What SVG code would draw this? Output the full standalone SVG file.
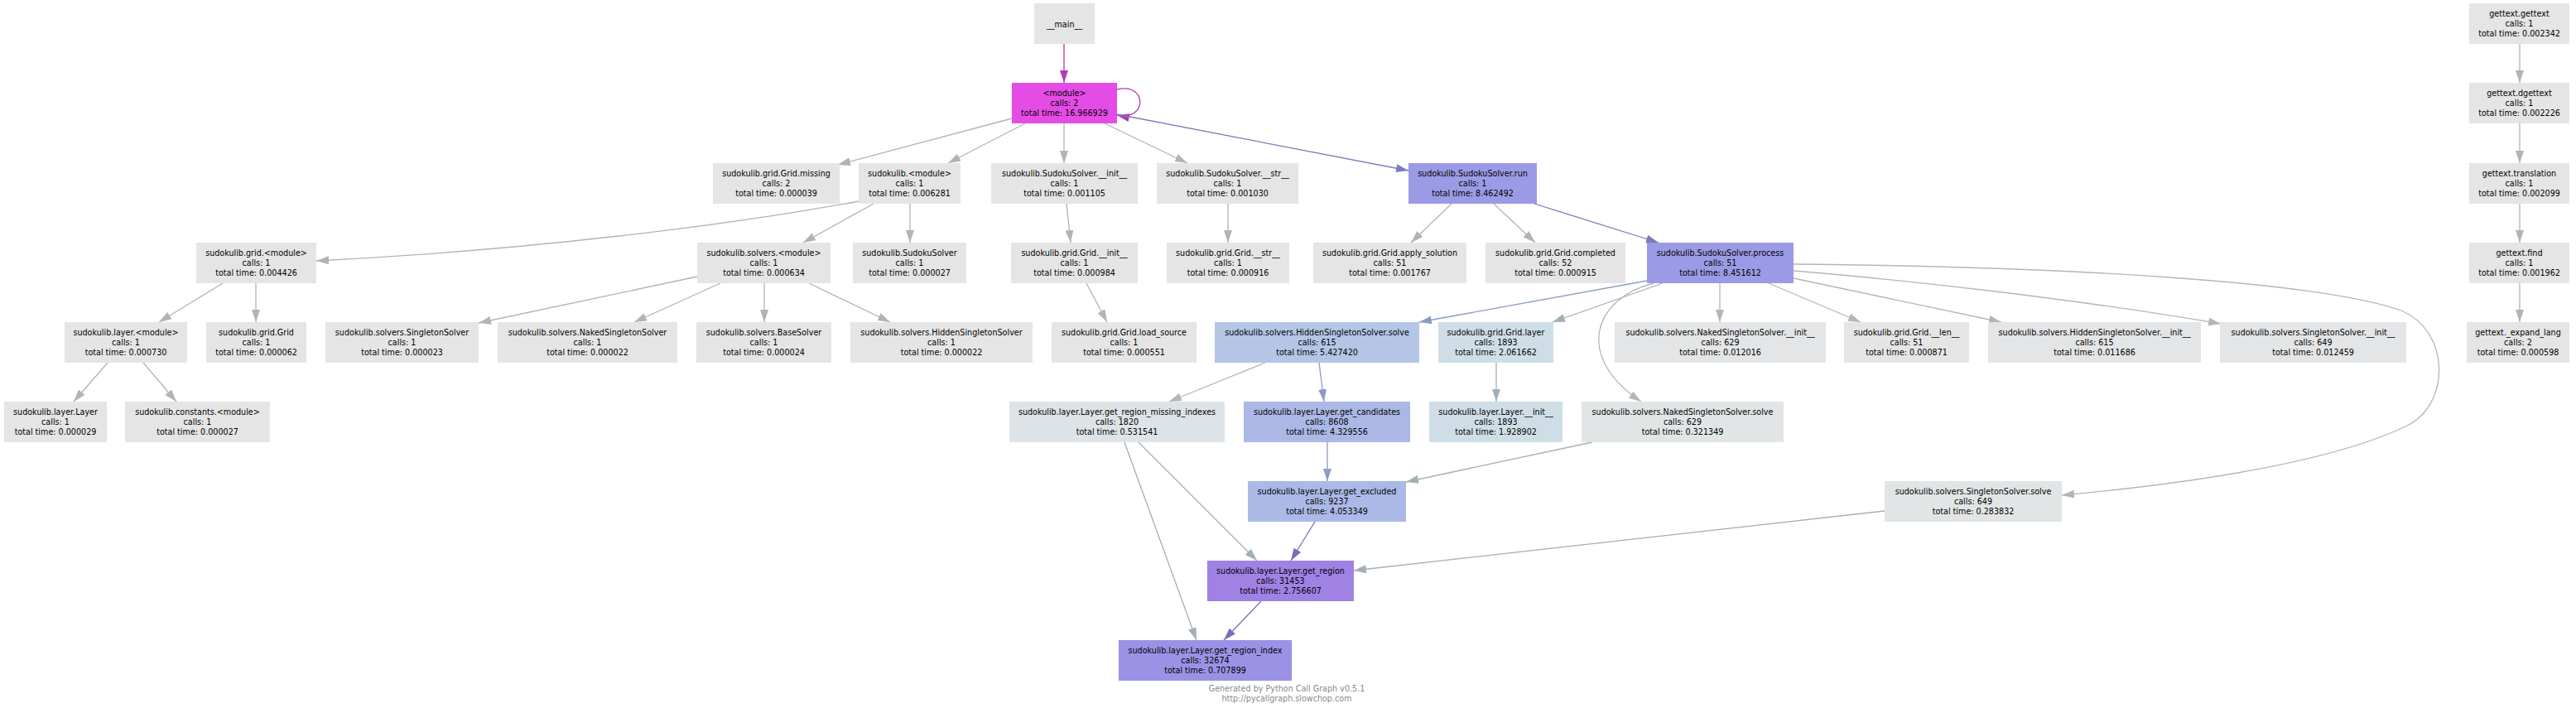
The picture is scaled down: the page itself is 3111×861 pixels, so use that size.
<svg xmlns="http://www.w3.org/2000/svg" width="3111" height="861" viewBox="0 0 3111 861">
<style>
rect{stroke:none}
.d{fill:#e5e5e5}
.g2{fill:#e3e5e6}
text{font-family:"DejaVu Sans","Liberation Sans",sans-serif;font-size:9.6px;fill:#000;text-anchor:middle}
.foot{fill:#888888}
.e{fill:none;stroke-width:1.3}
.gr{stroke:#b3b3b3;marker-end:url(#ag)}
.gb{stroke:#b3b6b9;marker-end:url(#agb)}
.bl{stroke:#8c9cc2;marker-end:url(#abl)}
.lv{stroke:#7b7bbd;marker-end:url(#alv)}
.pu{stroke:#7a6cbd;marker-end:url(#apu)}
.sl{stroke:#a3afb7;marker-end:url(#asl)}
.mg{stroke:#b23cb2;marker-end:url(#amg)}
</style>
<defs>
<marker id="ag" markerUnits="userSpaceOnUse" markerWidth="15" markerHeight="10" refX="15" refY="5" orient="auto"><path d="M0,0L15,5L0,10z" fill="#b3b3b3"/></marker>
<marker id="agb" markerUnits="userSpaceOnUse" markerWidth="15" markerHeight="10" refX="15" refY="5" orient="auto"><path d="M0,0L15,5L0,10z" fill="#b3b6b9"/></marker>
<marker id="abl" markerUnits="userSpaceOnUse" markerWidth="15" markerHeight="10" refX="15" refY="5" orient="auto"><path d="M0,0L15,5L0,10z" fill="#8c9cc2"/></marker>
<marker id="alv" markerUnits="userSpaceOnUse" markerWidth="15" markerHeight="10" refX="15" refY="5" orient="auto"><path d="M0,0L15,5L0,10z" fill="#7b7bbd"/></marker>
<marker id="apu" markerUnits="userSpaceOnUse" markerWidth="15" markerHeight="10" refX="15" refY="5" orient="auto"><path d="M0,0L15,5L0,10z" fill="#7a6cbd"/></marker>
<marker id="asl" markerUnits="userSpaceOnUse" markerWidth="15" markerHeight="10" refX="15" refY="5" orient="auto"><path d="M0,0L15,5L0,10z" fill="#a3afb7"/></marker>
<marker id="amg" markerUnits="userSpaceOnUse" markerWidth="15" markerHeight="10" refX="15" refY="5" orient="auto"><path d="M0,0L15,5L0,10z" fill="#b23cb2"/></marker>
</defs>
<rect x="0" y="0" width="3111" height="861" fill="#ffffff"/>

<g id="connectors">
<path class="e mg" d="M1285,53L1285,100"/>
<path class="e mg" d="M1349,108C1386,99 1386,147 1349,139"/>
<path class="e gr" d="M1222,143L1012,199"/>
<path class="e gr" d="M1238,149L1145,197"/>
<path class="e gr" d="M1285,149L1285,197"/>
<path class="e gr" d="M1334,149L1434,197"/>
<path class="e lv" d="M1349,138L1701,206"/>
<path class="e gr" d="M1037,243C880,272 640,302 382,315"/>
<path class="e gr" d="M1055,246L970,293"/>
<path class="e gr" d="M1099,246L1099,293"/>
<path class="e gr" d="M1288,246L1293,293"/>
<path class="e gr" d="M1483,246L1483,293"/>
<path class="e gr" d="M1753,246L1704,293"/>
<path class="e gr" d="M1804,246L1854,293"/>
<path class="e lv" d="M1853,246L2003,293"/>
<path class="e gr" d="M269,342L192,389"/>
<path class="e gr" d="M309,342L309,389"/>
<path class="e gr" d="M842,334L578,390"/>
<path class="e gr" d="M870,342L766,389"/>
<path class="e gr" d="M923,342L923,389"/>
<path class="e gr" d="M977,342L1075,389"/>
<path class="e gr" d="M1312,342L1337,389"/>
<path class="e gr" d="M130,438L89,485"/>
<path class="e gr" d="M173,438L213,485"/>
<path class="e gr" d="M3043,53L3043,100"/>
<path class="e gr" d="M3043,149L3043,197"/>
<path class="e gr" d="M3043,246L3043,293"/>
<path class="e gr" d="M3043,342L3043,389"/>
<path class="e bl" d="M1989,339L1714,389"/>
<path class="e sl" d="M2008,342L1875,389"/>
<path class="e gb" d="M2077,342L2077,389"/>
<path class="e gb" d="M2136,342L2247,389"/>
<path class="e gb" d="M2166,336L2417,389"/>
<path class="e gb" d="M2166,327C2300,338 2500,360 2682,391"/>
<path class="e gb" d="M2166,319C2500,322 2800,340 2900,375C2960,400 2960,490 2905,515C2800,565 2600,588 2490,598"/>
<path class="e gb" d="M1997,342C1925,360 1900,430 1982,485"/>
<path class="e gb" d="M1528,438L1412,485"/>
<path class="e bl" d="M1593,438L1599,485"/>
<path class="e bl" d="M1603,534L1603,581"/>
<path class="e sl" d="M1807,438L1807,485"/>
<path class="e sl" d="M1923,534L1698,582"/>
<path class="e sl" d="M1375,534L1518,677"/>
<path class="e sl" d="M1358,534L1445,773"/>
<path class="e sl" d="M2276,617L1635,689"/>
<path class="e pu" d="M1588,630L1559,677"/>
<path class="e pu" d="M1523,726L1478,773"/>
</g>

<g id="main"><rect class="d" x="1249" y="4" width="73" height="49"/><text x="1285.5" y="32.5">__main__</text></g>
<g id="module"><rect x="1222" y="100" width="127" height="49" fill="#e54ce5"/><text x="1285.5" y="116"><tspan x="1285.5">&lt;module&gt;</tspan><tspan x="1285.5" dy="12">calls: 2</tspan><tspan x="1285.5" dy="12">total time: 16.966929</tspan></text></g>

<g id="grid_missing"><rect class="d" x="861" y="197" width="153" height="49"/><text x="937.5" y="213"><tspan x="937.5">sudokulib.grid.Grid.missing</tspan><tspan x="937.5" dy="12">calls: 2</tspan><tspan x="937.5" dy="12">total time: 0.000039</tspan></text></g>
<g id="sudokulib_module"><rect class="d" x="1037" y="197" width="123" height="49"/><text x="1098.5" y="213"><tspan x="1098.5">sudokulib.&lt;module&gt;</tspan><tspan x="1098.5" dy="12">calls: 1</tspan><tspan x="1098.5" dy="12">total time: 0.006281</tspan></text></g>
<g id="ss_init"><rect class="d" x="1197" y="197" width="177" height="49"/><text x="1285.5" y="213"><tspan x="1285.5">sudokulib.SudokuSolver.__init__</tspan><tspan x="1285.5" dy="12">calls: 1</tspan><tspan x="1285.5" dy="12">total time: 0.001105</tspan></text></g>
<g id="ss_str"><rect class="d" x="1397" y="197" width="171" height="49"/><text x="1482.5" y="213"><tspan x="1482.5">sudokulib.SudokuSolver.__str__</tspan><tspan x="1482.5" dy="12">calls: 1</tspan><tspan x="1482.5" dy="12">total time: 0.001030</tspan></text></g>
<g id="ss_run"><rect x="1701" y="197" width="155" height="49" fill="#9b9be5"/><text x="1778.5" y="213"><tspan x="1778.5">sudokulib.SudokuSolver.run</tspan><tspan x="1778.5" dy="12">calls: 1</tspan><tspan x="1778.5" dy="12">total time: 8.462492</tspan></text></g>

<g id="gettext_gettext"><rect class="d" x="2982" y="4" width="121" height="49"/><text x="3042.5" y="20"><tspan x="3042.5">gettext.gettext</tspan><tspan x="3042.5" dy="12">calls: 1</tspan><tspan x="3042.5" dy="12">total time: 0.002342</tspan></text></g>
<g id="gettext_dgettext"><rect class="d" x="2982" y="100" width="121" height="49"/><text x="3042.5" y="116"><tspan x="3042.5">gettext.dgettext</tspan><tspan x="3042.5" dy="12">calls: 1</tspan><tspan x="3042.5" dy="12">total time: 0.002226</tspan></text></g>
<g id="gettext_translation"><rect class="d" x="2982" y="197" width="121" height="49"/><text x="3042.5" y="213"><tspan x="3042.5">gettext.translation</tspan><tspan x="3042.5" dy="12">calls: 1</tspan><tspan x="3042.5" dy="12">total time: 0.002099</tspan></text></g>
<g id="gettext_find"><rect class="d" x="2982" y="293" width="121" height="49"/><text x="3042.5" y="309"><tspan x="3042.5">gettext.find</tspan><tspan x="3042.5" dy="12">calls: 1</tspan><tspan x="3042.5" dy="12">total time: 0.001962</tspan></text></g>
<g id="gettext_expand_lang"><rect class="d" x="2979" y="389" width="124" height="49"/><text x="3041" y="405"><tspan x="3041">gettext._expand_lang</tspan><tspan x="3041" dy="12">calls: 2</tspan><tspan x="3041" dy="12">total time: 0.000598</tspan></text></g>

<g id="grid_module"><rect class="d" x="237" y="293" width="145" height="49"/><text x="309.5" y="309"><tspan x="309.5">sudokulib.grid.&lt;module&gt;</tspan><tspan x="309.5" dy="12">calls: 1</tspan><tspan x="309.5" dy="12">total time: 0.004426</tspan></text></g>
<g id="solvers_module"><rect class="d" x="842" y="293" width="161" height="49"/><text x="922.5" y="309"><tspan x="922.5">sudokulib.solvers.&lt;module&gt;</tspan><tspan x="922.5" dy="12">calls: 1</tspan><tspan x="922.5" dy="12">total time: 0.000634</tspan></text></g>
<g id="sudokusolver"><rect class="d" x="1030" y="293" width="137" height="49"/><text x="1098.5" y="309"><tspan x="1098.5">sudokulib.SudokuSolver</tspan><tspan x="1098.5" dy="12">calls: 1</tspan><tspan x="1098.5" dy="12">total time: 0.000027</tspan></text></g>
<g id="grid_init"><rect class="d" x="1221" y="293" width="153" height="49"/><text x="1297.5" y="309"><tspan x="1297.5">sudokulib.grid.Grid.__init__</tspan><tspan x="1297.5" dy="12">calls: 1</tspan><tspan x="1297.5" dy="12">total time: 0.000984</tspan></text></g>
<g id="grid_str"><rect class="d" x="1409" y="293" width="148" height="49"/><text x="1483" y="309"><tspan x="1483">sudokulib.grid.Grid.__str__</tspan><tspan x="1483" dy="12">calls: 1</tspan><tspan x="1483" dy="12">total time: 0.000916</tspan></text></g>
<g id="apply_solution"><rect class="d" x="1586" y="293" width="185" height="49"/><text x="1678.5" y="309"><tspan x="1678.5">sudokulib.grid.Grid.apply_solution</tspan><tspan x="1678.5" dy="12">calls: 51</tspan><tspan x="1678.5" dy="12">total time: 0.001767</tspan></text></g>
<g id="completed"><rect class="d" x="1794" y="293" width="169" height="49"/><text x="1878.5" y="309"><tspan x="1878.5">sudokulib.grid.Grid.completed</tspan><tspan x="1878.5" dy="12">calls: 52</tspan><tspan x="1878.5" dy="12">total time: 0.000915</tspan></text></g>
<g id="process"><rect x="1989" y="293" width="177" height="49" fill="#9b9be5"/><text x="2077.5" y="309"><tspan x="2077.5">sudokulib.SudokuSolver.process</tspan><tspan x="2077.5" dy="12">calls: 51</tspan><tspan x="2077.5" dy="12">total time: 8.451612</tspan></text></g>

<g id="layer_module"><rect class="d" x="78" y="389" width="148" height="49"/><text x="152" y="405"><tspan x="152">sudokulib.layer.&lt;module&gt;</tspan><tspan x="152" dy="12">calls: 1</tspan><tspan x="152" dy="12">total time: 0.000730</tspan></text></g>
<g id="grid_grid"><rect class="d" x="249" y="389" width="121" height="49"/><text x="309.5" y="405"><tspan x="309.5">sudokulib.grid.Grid</tspan><tspan x="309.5" dy="12">calls: 1</tspan><tspan x="309.5" dy="12">total time: 0.000062</tspan></text></g>
<g id="singleton_solver"><rect class="d" x="393" y="389" width="185" height="49"/><text x="485.5" y="405"><tspan x="485.5">sudokulib.solvers.SingletonSolver</tspan><tspan x="485.5" dy="12">calls: 1</tspan><tspan x="485.5" dy="12">total time: 0.000023</tspan></text></g>
<g id="naked_solver"><rect class="d" x="601" y="389" width="217" height="49"/><text x="709.5" y="405"><tspan x="709.5">sudokulib.solvers.NakedSingletonSolver</tspan><tspan x="709.5" dy="12">calls: 1</tspan><tspan x="709.5" dy="12">total time: 0.000022</tspan></text></g>
<g id="base_solver"><rect class="d" x="841" y="389" width="163" height="49"/><text x="922.5" y="405"><tspan x="922.5">sudokulib.solvers.BaseSolver</tspan><tspan x="922.5" dy="12">calls: 1</tspan><tspan x="922.5" dy="12">total time: 0.000024</tspan></text></g>
<g id="hidden_solver"><rect class="d" x="1027" y="389" width="220" height="49"/><text x="1137" y="405"><tspan x="1137">sudokulib.solvers.HiddenSingletonSolver</tspan><tspan x="1137" dy="12">calls: 1</tspan><tspan x="1137" dy="12">total time: 0.000022</tspan></text></g>
<g id="load_source"><rect class="d" x="1270" y="389" width="175" height="49"/><text x="1357.5" y="405"><tspan x="1357.5">sudokulib.grid.Grid.load_source</tspan><tspan x="1357.5" dy="12">calls: 1</tspan><tspan x="1357.5" dy="12">total time: 0.000551</tspan></text></g>
<g id="hss_solve"><rect x="1467" y="389" width="247" height="49" fill="#b3c6e6"/><text x="1590.5" y="405"><tspan x="1590.5">sudokulib.solvers.HiddenSingletonSolver.solve</tspan><tspan x="1590.5" dy="12">calls: 615</tspan><tspan x="1590.5" dy="12">total time: 5.427420</tspan></text></g>
<g id="grid_layer"><rect x="1737" y="389" width="139" height="49" fill="#cfdee6"/><text x="1806.5" y="405"><tspan x="1806.5">sudokulib.grid.Grid.layer</tspan><tspan x="1806.5" dy="12">calls: 1893</tspan><tspan x="1806.5" dy="12">total time: 2.061662</tspan></text></g>
<g id="nss_init"><rect class="g2" x="1950" y="389" width="255" height="49"/><text x="2077.5" y="405"><tspan x="2077.5">sudokulib.solvers.NakedSingletonSolver.__init__</tspan><tspan x="2077.5" dy="12">calls: 629</tspan><tspan x="2077.5" dy="12">total time: 0.012016</tspan></text></g>
<g id="grid_len"><rect class="d" x="2227" y="389" width="151" height="49"/><text x="2302.5" y="405"><tspan x="2302.5">sudokulib.grid.Grid.__len__</tspan><tspan x="2302.5" dy="12">calls: 51</tspan><tspan x="2302.5" dy="12">total time: 0.000871</tspan></text></g>
<g id="hss_init"><rect class="g2" x="2401" y="389" width="257" height="49"/><text x="2529.5" y="405"><tspan x="2529.5">sudokulib.solvers.HiddenSingletonSolver.__init__</tspan><tspan x="2529.5" dy="12">calls: 615</tspan><tspan x="2529.5" dy="12">total time: 0.011686</tspan></text></g>
<g id="sgs_init"><rect class="g2" x="2681" y="389" width="225" height="49"/><text x="2793.5" y="405"><tspan x="2793.5">sudokulib.solvers.SingletonSolver.__init__</tspan><tspan x="2793.5" dy="12">calls: 649</tspan><tspan x="2793.5" dy="12">total time: 0.012459</tspan></text></g>

<g id="layer_layer"><rect class="d" x="5" y="485" width="124" height="49"/><text x="67" y="501"><tspan x="67">sudokulib.layer.Layer</tspan><tspan x="67" dy="12">calls: 1</tspan><tspan x="67" dy="12">total time: 0.000029</tspan></text></g>
<g id="constants_module"><rect class="d" x="151" y="485" width="175" height="49"/><text x="238.5" y="501"><tspan x="238.5">sudokulib.constants.&lt;module&gt;</tspan><tspan x="238.5" dy="12">calls: 1</tspan><tspan x="238.5" dy="12">total time: 0.000027</tspan></text></g>
<g id="get_region_missing_indexes"><rect x="1219" y="485" width="260" height="49" fill="#dde3e6"/><text x="1349" y="501"><tspan x="1349">sudokulib.layer.Layer.get_region_missing_indexes</tspan><tspan x="1349" dy="12">calls: 1820</tspan><tspan x="1349" dy="12">total time: 0.531541</tspan></text></g>
<g id="get_candidates"><rect x="1502" y="485" width="201" height="49" fill="#abb8e6"/><text x="1602.5" y="501"><tspan x="1602.5">sudokulib.layer.Layer.get_candidates</tspan><tspan x="1602.5" dy="12">calls: 8608</tspan><tspan x="1602.5" dy="12">total time: 4.329556</tspan></text></g>
<g id="layer_init"><rect x="1726" y="485" width="161" height="49" fill="#cfdee6"/><text x="1806.5" y="501"><tspan x="1806.5">sudokulib.layer.Layer.__init__</tspan><tspan x="1806.5" dy="12">calls: 1893</tspan><tspan x="1806.5" dy="12">total time: 1.928902</tspan></text></g>
<g id="nss_solve"><rect x="1910" y="485" width="244" height="49" fill="#e2e5e6"/><text x="2032" y="501"><tspan x="2032">sudokulib.solvers.NakedSingletonSolver.solve</tspan><tspan x="2032" dy="12">calls: 629</tspan><tspan x="2032" dy="12">total time: 0.321349</tspan></text></g>

<g id="get_excluded"><rect x="1507" y="581" width="191" height="49" fill="#abb9e6"/><text x="1602.5" y="597"><tspan x="1602.5">sudokulib.layer.Layer.get_excluded</tspan><tspan x="1602.5" dy="12">calls: 9237</tspan><tspan x="1602.5" dy="12">total time: 4.053349</tspan></text></g>
<g id="sgs_solve"><rect x="2276" y="581" width="214" height="49" fill="#e2e5e6"/><text x="2383" y="597"><tspan x="2383">sudokulib.solvers.SingletonSolver.solve</tspan><tspan x="2383" dy="12">calls: 649</tspan><tspan x="2383" dy="12">total time: 0.283832</tspan></text></g>
<g id="get_region"><rect x="1458" y="677" width="177" height="49" fill="#a082e5"/><text x="1546.5" y="693"><tspan x="1546.5">sudokulib.layer.Layer.get_region</tspan><tspan x="1546.5" dy="12">calls: 31453</tspan><tspan x="1546.5" dy="12">total time: 2.756607</tspan></text></g>
<g id="get_region_index"><rect x="1351" y="773" width="209" height="49" fill="#9b92e5"/><text x="1455.5" y="789"><tspan x="1455.5">sudokulib.layer.Layer.get_region_index</tspan><tspan x="1455.5" dy="12">calls: 32674</tspan><tspan x="1455.5" dy="12">total time: 0.707899</tspan></text></g>

<g id="footer"><text class="foot" x="1554" y="835"><tspan x="1554">Generated by Python Call Graph v0.5.1</tspan><tspan x="1554" dy="12">http://pycallgraph.slowchop.com</tspan></text></g>
</svg>
